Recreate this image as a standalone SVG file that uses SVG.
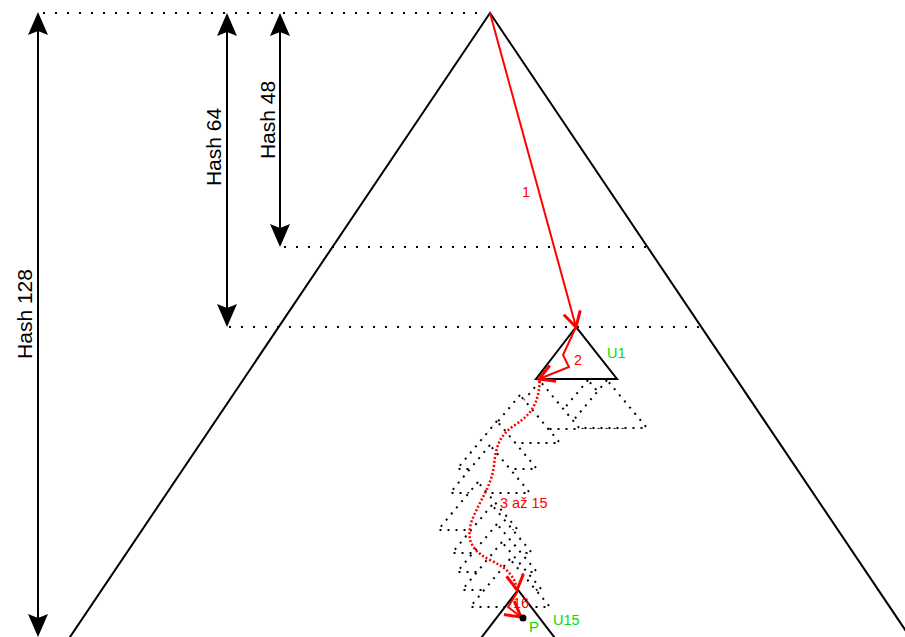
<svg xmlns="http://www.w3.org/2000/svg" width="905" height="637" viewBox="0 0 905 637">
<style>
.edge{fill:#fff;stroke:#000;stroke-width:2;stroke-linejoin:miter}
.hl{fill:none;stroke:#000;stroke-width:2;stroke-dasharray:2 10}
.dt{fill:#fff;stroke:#000;stroke-width:2;stroke-dasharray:2 6}
.ax{fill:none;stroke:#000;stroke-width:2}
.ah{fill:#000;stroke:none}
.red{fill:none;stroke:#f00;stroke-width:2}
.reddot{fill:none;stroke:#f00;stroke-width:2.5;stroke-dasharray:2 2}
.lbl{font-family:"Liberation Sans",Arial,sans-serif;font-size:21px;fill:#000;text-anchor:middle}
.rl{font-family:"Liberation Sans",Arial,sans-serif;font-size:14.5px;fill:#f00}
.gl{font-family:"Liberation Sans",Arial,sans-serif;font-size:14.5px;fill:#00dd00}
</style>
<defs>
<path id="tri" d="M0,0 L-40,48 L40,48 Z"/>
<marker id="open" viewBox="-19 -12 22 24" refX="0" refY="0" markerWidth="22" markerHeight="24" markerUnits="userSpaceOnUse" orient="auto">
<path d="M-15,-8.5 L0,0 L-15,8.5" fill="none" stroke="#f00" stroke-width="3" stroke-dasharray="none"/>
</marker>
</defs>
<rect width="905" height="637" fill="#fff"/>
<g id="tree">
<path class="edge" d="M490,13 L68,640 L912,640 Z"/>
</g>
<g id="levels">
<line class="hl" x1="43" y1="13" x2="486" y2="13"/>
<line class="hl" x1="284" y1="247" x2="650" y2="247"/>
<line class="hl" x1="229" y1="327" x2="700" y2="327"/>
</g>
<g id="u1">
<path class="edge" d="M576,327 L536,379 L617,379 Z"/>
<text class="gl" x="607" y="358">U1</text>
</g>
<g id="subtrees">
<use href="#tri" class="dt" x="588" y="380"/>
<use href="#tri" class="dt" x="607" y="380"/>
<use href="#tri" class="dt" x="540" y="381"/>
<use href="#tri" class="dt" x="520" y="395"/>
<use href="#tri" class="dt" x="497" y="421"/>
<use href="#tri" class="dt" x="490" y="445"/>
<use href="#tri" class="dt" x="478" y="482"/>
<use href="#tri" class="dt" x="492" y="505"/>
<use href="#tri" class="dt" x="497" y="524"/>
<use href="#tri" class="dt" x="502" y="542"/>
<use href="#tri" class="dt" x="510" y="559"/>
</g>
<g id="u15">
<path class="edge" d="M518,590 L478,642 L558,642 Z"/>
<text class="gl" x="553" y="625">U15</text>
</g>
<g id="connectors">
<line class="ax" x1="38" y1="30" x2="38" y2="620"/>
<path class="ah" d="M38,12 L28,35 L38,31 L48,35 Z"/>
<path class="ah" d="M38,637 L28,614 L38,618 L48,614 Z"/>
<line class="ax" x1="227" y1="30" x2="227" y2="310"/>
<path class="ah" d="M227,13 L217,36 L227,32 L237,36 Z"/>
<path class="ah" d="M227,327 L217,304 L227,308 L237,304 Z"/>
<line class="ax" x1="280" y1="30" x2="280" y2="230"/>
<path class="ah" d="M280,13 L270,36 L280,32 L290,36 Z"/>
<path class="ah" d="M280,247 L270,224 L280,228 L290,224 Z"/>
<line class="red" x1="490" y1="13" x2="576" y2="327" marker-end="url(#open)"/>
<polyline class="red" points="576,327 563,355 569,367 539,379" marker-end="url(#open)"/>
<path class="reddot" d="M540,381 C538,400 535,412 515,425 C500,435 496,445 494,465 C492,485 480,500 472,520 C466,538 470,550 490,560 C505,567 515,575 517,590" marker-end="url(#open)"/>
<polyline class="red" points="518,591 508,607 521,617" marker-end="url(#open)"/>
</g>
<g id="labels">
<text class="lbl" transform="translate(32,314) rotate(-90)">Hash 128</text>
<text class="lbl" transform="translate(221,147) rotate(-90)">Hash 64</text>
<text class="lbl" transform="translate(275,120) rotate(-90)">Hash 48</text>
<text class="rl" x="522" y="197">1</text>
<text class="rl" x="574" y="365">2</text>
<text class="rl" x="500" y="508">3 až 15</text>
<text class="rl" x="513" y="608">16</text>
</g>
<g id="p">
<circle cx="523" cy="618" r="3.5" fill="#000"/>
<text class="gl" x="529" y="632" style="font-size:15px">P</text>
</g>
</svg>
